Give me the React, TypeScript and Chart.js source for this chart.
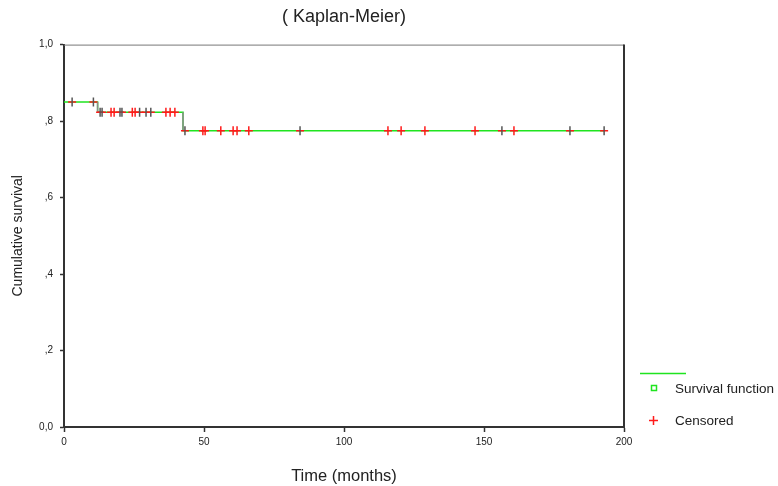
import React, { useEffect, useRef } from 'react';
import { Chart, registerables } from 'chart.js';

Chart.register(...registerables);

// ---- data ----
const stepTimes = [0, 12, 42.5, 193];
const stepSurvival = [0.85, 0.8234, 0.775, 0.775];
const censorTimes = [
  2.9, 10.5,
  12.9, 13.6, 16.8, 17.9, 20, 20.7, 24.4, 25.4, 27, 29.3, 31, 36.4, 37.9, 39.6,
  43.2, 49.6, 50.4, 56, 60.4, 61.8, 66, 84.3, 115.7, 120.4, 128.9, 146.8, 156.4, 160.7, 180.7, 192.9,
];
const greyMarkTimes = [2.9, 10.5, 12.9, 13.6, 20, 20.7, 27, 29.3, 31, 43.2, 84.3, 156.4, 180.7, 192.9];
const xTickValues = [0, 50, 100, 150, 200];
const xTickLabels = ['0', '50', '100', '150', '200'];
const yTickValues = [0, 0.2, 0.4, 0.6, 0.8, 1];
const yTickLabels = ['0,0', ',2', ',4', ',6', ',8', '1,0'];
const titleText = '( Kaplan-Meier)';
const xTitle = 'Time (months)';
const yTitle = 'Cumulative survival';
const legendLabels = ['Survival function', 'Censored'];

const FONT = '"Liberation Sans", Arial, Helvetica, sans-serif';
const GREEN = '#1fe41f';
const RED = '#ff1a1a';

function survivalAt(t: number): number {
  let s = stepSurvival[0];
  for (let i = 0; i < stepTimes.length; i++) {
    if (stepTimes[i] <= t) s = stepSurvival[i];
  }
  return s;
}

const framePlugin = {
  id: 'frameLegend',
  afterDatasetsDraw(chart: any) {
    const { ctx, chartArea } = chart;
    const { left, right, top, bottom } = chartArea;
    ctx.save();
    ctx.strokeStyle = '#777';
    ctx.lineWidth = 1;
    ctx.beginPath();
    ctx.moveTo(left, top + 0.5);
    ctx.lineTo(right, top + 0.5);
    ctx.stroke();
    ctx.strokeStyle = '#333';
    ctx.lineWidth = 2;
    ctx.beginPath();
    ctx.moveTo(right, top);
    ctx.lineTo(right, bottom + 1);
    ctx.stroke();
    ctx.restore();
  },
  afterDraw(chart: any) {
    const { ctx } = chart;
    ctx.save();
    // survival function entry
    ctx.strokeStyle = GREEN;
    ctx.lineWidth = 1.5;
    ctx.beginPath();
    ctx.moveTo(640, 373.5);
    ctx.lineTo(686, 373.5);
    ctx.stroke();
    ctx.strokeRect(651.5, 385.5, 5, 5);
    // censored entry
    ctx.strokeStyle = RED;
    ctx.beginPath();
    ctx.moveTo(649, 420.5);
    ctx.lineTo(658, 420.5);
    ctx.moveTo(653.5, 416);
    ctx.lineTo(653.5, 425);
    ctx.stroke();
    ctx.fillStyle = '#222';
    ctx.font = `13.5px ${FONT}`;
    ctx.textBaseline = 'middle';
    ctx.textAlign = 'left';
    ctx.fillText(legendLabels[0], 675, 389);
    ctx.fillText(legendLabels[1], 675, 421);
    ctx.restore();
  },
};

export default function App() {
  const ref = useRef<HTMLCanvasElement>(null);

  useEffect(() => {
    if (!ref.current) return;
    const stepData = stepTimes.map((t, i) => ({ x: t, y: stepSurvival[i] }));
    const dropData: any[] = [];
    for (let i = 1; i < stepTimes.length; i++) {
      if (stepSurvival[i] !== stepSurvival[i - 1]) {
        dropData.push({ x: stepTimes[i], y: stepSurvival[i - 1] });
        dropData.push({ x: stepTimes[i], y: stepSurvival[i] });
        dropData.push({ x: stepTimes[i], y: null });
      }
    }
    const censorData = censorTimes.map((t) => ({ x: t, y: survivalAt(t) }));
    const vertColors = censorTimes.map((t) => (greyMarkTimes.includes(t) ? '#555' : RED));

    const chart = new Chart(ref.current, {
      type: 'line',
      data: {
        datasets: [
          {
            label: 'Survival function',
            data: stepData,
            stepped: 'before',
            borderColor: GREEN,
            borderWidth: 1.5,
            pointRadius: 0,
            fill: false,
            order: 4,
          },
          {
            label: 'drops',
            data: dropData,
            borderColor: '#8c8c8c',
            borderWidth: 1.5,
            pointRadius: 0,
            spanGaps: false,
            fill: false,
            order: 3,
          },
          {
            label: 'Censored',
            data: censorData,
            showLine: false,
            pointStyle: 'line',
            pointRadius: 4,
            pointBorderColor: RED,
            pointBorderWidth: 1.5,
            order: 2,
          },
          {
            label: 'Censored v',
            data: censorData,
            showLine: false,
            pointStyle: 'line',
            pointRotation: 90,
            pointRadius: 4.5,
            pointBorderColor: vertColors,
            pointBorderWidth: 1.5,
            order: 1,
          },
        ],
      } as any,
      options: {
        responsive: false,
        animation: false,
        devicePixelRatio: 1,
        layout: { padding: { top: 0, left: 0, right: 154, bottom: 0 } },
        plugins: {
          legend: { display: false },
          tooltip: { enabled: false },
          title: {
            display: true,
            text: titleText,
            fullSize: false,
            color: '#222',
            font: { family: FONT, size: 18, weight: 'normal' },
            padding: { top: 6, bottom: 17 },
          },
        },
        scales: {
          x: {
            type: 'linear',
            min: 0,
            max: 200,
            afterBuildTicks: (scale: any) => {
              scale.ticks = xTickValues.map((v) => ({ value: v }));
            },
            afterFit: (scale: any) => {
              scale.height = 59;
            },
            ticks: {
              color: '#222',
              font: { family: FONT, size: 10 },
              padding: 4,
              maxRotation: 0,
              callback: (v: any) => {
                const i = xTickValues.indexOf(Number(v));
                return i >= 0 ? xTickLabels[i] : '';
              },
            },
            grid: {
              display: true,
              drawOnChartArea: false,
              drawTicks: true,
              tickLength: 5,
              tickColor: '#333',
              tickWidth: 1.5,
            },
            border: { display: true, color: '#333', width: 2 },
            title: {
              display: true,
              text: xTitle,
              color: '#222',
              font: { family: FONT, size: 16.5 },
              padding: { top: 0, bottom: 0 },
            },
          },
          y: {
            type: 'linear',
            min: 0,
            max: 1,
            afterBuildTicks: (scale: any) => {
              scale.ticks = yTickValues.map((v) => ({ value: v }));
            },
            afterFit: (scale: any) => {
              scale.width = 64;
            },
            ticks: {
              color: '#222',
              font: { family: FONT, size: 10 },
              padding: 7,
              callback: (v: any) => {
                const i = yTickValues.findIndex((t) => Math.abs(t - Number(v)) < 1e-9);
                return i >= 0 ? yTickLabels[i] : '';
              },
            },
            grid: {
              display: true,
              drawOnChartArea: false,
              drawTicks: true,
              tickLength: 4,
              tickColor: '#333',
              tickWidth: 1.5,
            },
            border: { display: true, color: '#333', width: 2 },
            title: {
              display: true,
              text: yTitle,
              color: '#222',
              font: { family: FONT, size: 14 },
              padding: { top: 10, bottom: 0 },
            },
          },
        },
      } as any,
      plugins: [framePlugin],
    });
    return () => chart.destroy();
  }, []);

  return (
    <div style={{ position: 'absolute', left: 0, top: 0, width: 778, height: 486, background: '#fff' }}>
      <canvas ref={ref} width={778} height={486} />
    </div>
  );
}
